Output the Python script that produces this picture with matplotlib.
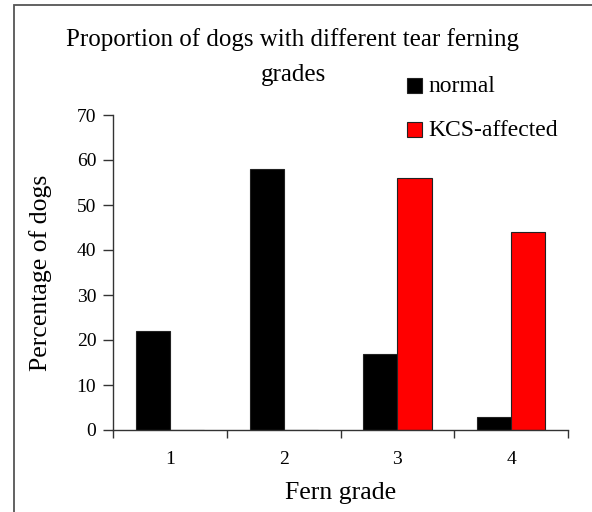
import matplotlib
matplotlib.use("Agg")
import matplotlib.pyplot as plt
import numpy as np
from matplotlib.patches import Rectangle

grades = ["1", "2", "3", "4"]
normal = [22, 58, 17, 3]
kcs = [0, 0, 56, 44]
series_names = ["normal", "KCS-affected"]
colors = ["#000000", "#ff0000"]

plt.rcParams['font.family'] = ['Liberation Serif', 'DejaVu Serif']

fig = plt.figure(figsize=(5.92, 5.12), dpi=100)
# outer chart border (left and top visible)
fig.patches.append(Rectangle((14/592, -0.1), 1.2, 1 - 5/512 + 0.1, transform=fig.transFigure,
                             fill=False, edgecolor="#555555", linewidth=1.3))

ax = fig.add_axes([113/592, 1 - 430/512, 455/592, 315/512])
x = np.arange(len(grades))
w = 0.30
ax.bar(x - w/2, normal, width=w, color=colors[0], edgecolor="#222222", linewidth=0.8, label=series_names[0])
ax.bar(x + w/2, kcs, width=w, color=colors[1], edgecolor="#222222", linewidth=0.8, label=series_names[1])

ax.set_xlim(-0.5, len(grades) - 0.5)
ax.set_ylim(0, 70)
ax.set_yticks(range(0, 71, 10))
ax.set_xticks(x)
ax.set_xticklabels(grades, fontsize=14)
ax.set_xticks(np.arange(-0.5, len(grades), 1), minor=True)
ax.tick_params(axis='x', which='major', length=0, pad=15)
ax.tick_params(axis='x', which='minor', length=6, width=1, color="#333333", direction='out')
ax.tick_params(axis='y', length=7, width=1, color="#333333", labelsize=14, pad=5)
for s in ["top", "right"]:
    ax.spines[s].set_visible(False)
for s in ["left", "bottom"]:
    ax.spines[s].set_color("#333333")
    ax.spines[s].set_linewidth(1)

ax.set_ylabel("Percentage of dogs", fontsize=18.5, labelpad=18)
ax.set_xlabel("Fern grade", fontsize=18.5, labelpad=10)

fig.text(293/592, 1 - 40/512, "Proportion of dogs with different tear ferning", ha="center", va="center", fontsize=18)
fig.text(293/592, 1 - 75/512, "grades", ha="center", va="center", fontsize=18)

# legend
for i, (name, c) in enumerate(zip(series_names, colors)):
    yc = 1 - (85 + 44 * i) / 512
    fig.patches.append(Rectangle((407/592, yc - 7.5/512), 15/592, 15/512, transform=fig.transFigure,
                                 facecolor=c, edgecolor="#222222", linewidth=0.8))
    fig.text(428/592, yc - 1.5/512, name, ha="left", va="center", fontsize=17)

fig.savefig("out.png", dpi=100)
